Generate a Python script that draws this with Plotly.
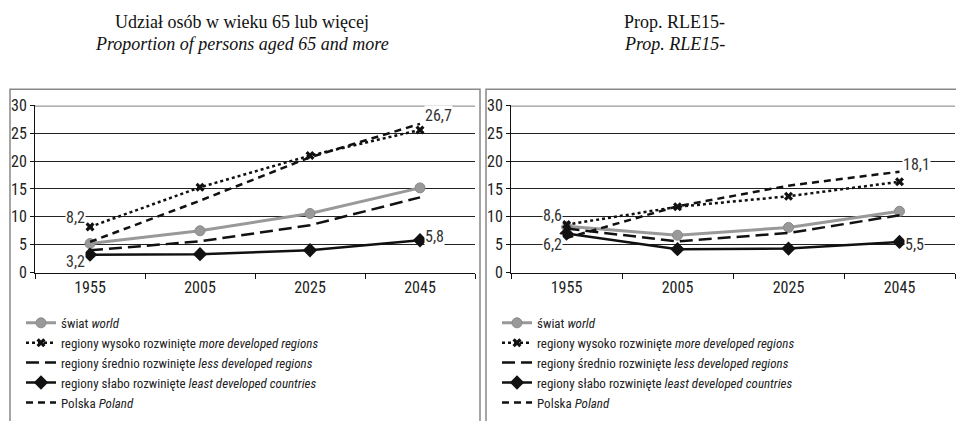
import plotly.graph_objects as go

W, H = 956, 421

years = ["1955", "2005", "2025", "2045"]
yticks = [0, 5, 10, 15, 20, 25, 30]

# Left panel: proportion aged 65+
world_65 = [5.2, 7.5, 10.6, 15.2]
more_65 = [8.2, 15.3, 21.0, 25.6]
less_65 = [4.0, 5.6, 8.5, 13.5]
least_65 = [3.2, 3.3, 4.0, 5.8]
poland_65 = [5.5, 12.9, 20.7, 26.7]

# Right panel: Prop. RLE15-
world_rle = [8.3, 6.7, 8.1, 11.0]
more_rle = [8.6, 11.8, 13.7, 16.3]
less_rle = [7.9, 5.6, 7.1, 10.3]
least_rle = [7.0, 4.2, 4.3, 5.5]
poland_rle = [6.2, 11.9, 15.6, 18.1]

names = [
    "świat <i>world</i>",
    "regiony wysoko rozwinięte <i>more developed regions</i>",
    "regiony średnio rozwinięte <i>less developed regions</i>",
    "regiony słabo rozwinięte <i>least developed countries</i>",
    "Polska <i>Poland</i>",
]

NARROW = "Liberation Sans Narrow, Arial Narrow, Roboto Condensed, sans-serif"
SERIF = "Liberation Serif, Times New Roman, serif"

def px(x):
    return x / W

def py(y):
    return 1 - y / H

styles = [
    dict(mode="lines+markers", line=dict(color="#999999", width=3),
         marker=dict(symbol="circle", size=10, color="#999999", line=dict(color="#8a8a8a", width=1))),
    dict(mode="lines+markers", line=dict(color="#111111", width=2.5, dash="dot"),
         marker=dict(symbol="x", size=8, color="#111111")),
    dict(mode="lines", line=dict(color="#111111", width=2.5, dash="13px,6px")),
    dict(mode="lines+markers", line=dict(color="#111111", width=2.5),
         marker=dict(symbol="diamond", size=11, color="#111111")),
    dict(mode="lines", line=dict(color="#111111", width=2.5, dash="7px,5px")),
]

fig = go.Figure()

panels = [
    ("x", "y", "legend", [world_65, more_65, less_65, least_65, poland_65]),
    ("x2", "y2", "legend2", [world_rle, more_rle, less_rle, least_rle, poland_rle]),
]
for xa, ya, lg, series in panels:
    for i in range(5):
        fig.add_trace(go.Scatter(x=years, y=series[i], name=names[i], xaxis=xa, yaxis=ya,
                                 legend=lg, hoverinfo="skip", **styles[i]))

axis_common_y = dict(range=[0, 30], tickvals=yticks, showgrid=True, gridcolor="#222222",
                     gridwidth=1, showline=True, linecolor="#111111", linewidth=1,
                     ticks="outside", ticklen=4, tickcolor="#111111", zeroline=False,
                     tickfont=dict(family=NARROW, size=16, color="#222222"),
                     domain=[py(276), py(101)], fixedrange=True)
axis_common_x = dict(type="category", categoryorder="array", categoryarray=years,
                     range=[-0.5, 3.5], tickson="boundaries", ticks="outside", ticklen=5,
                     tickcolor="#111111", showline=True, linecolor="#111111", linewidth=1,
                     showgrid=False, tickfont=dict(family=NARROW, size=16, color="#222222"),
                     fixedrange=True)

fig.update_layout(
    width=W, height=H,
    margin=dict(l=0, r=0, t=0, b=0),
    paper_bgcolor="white", plot_bgcolor="white",
    xaxis=dict(domain=[px(35), px(475)], anchor="y", **axis_common_x),
    yaxis=dict(anchor="x", **axis_common_y),
    xaxis2=dict(domain=[px(511), px(955)], anchor="y2", **axis_common_x),
    yaxis2=dict(anchor="x2", **axis_common_y),
    legend=dict(x=px(21), y=py(313), xanchor="left", yanchor="top",
                font=dict(family=NARROW, size=13, color="#222222"),
                bgcolor="rgba(0,0,0,0)", tracegroupgap=0, itemwidth=30),
    legend2=dict(x=px(497), y=py(313), xanchor="left", yanchor="top",
                 font=dict(family=NARROW, size=13, color="#222222"),
                 bgcolor="rgba(0,0,0,0)", tracegroupgap=0, itemwidth=30),
    showlegend=True,
)

shapes = [
    dict(type="rect", xref="paper", yref="paper", x0=px(10), x1=px(480), y0=-0.05, y1=py(84),
         line=dict(color="#888888", width=1.5), layer="below"),
    dict(type="rect", xref="paper", yref="paper", x0=px(486), x1=1.05, y0=-0.05, y1=py(84),
         line=dict(color="#888888", width=1.5), layer="below"),
    dict(type="line", xref="x domain", yref="y", x0=0, x1=1, y0=30, y1=30,
         line=dict(color="#999999", width=2.5)),
    dict(type="line", xref="x2 domain", yref="y2", x0=0, x1=1, y0=30, y1=30,
         line=dict(color="#999999", width=2.5)),
]
fig.update_layout(shapes=shapes)

def fmt(v):
    return f"{v:.1f}".replace(".", ",")

# (axis x, axis y, category index, value, anchor, xshift, yshift)
labels = [
    ("x", "y", 0, more_65[0], "right", -4, 9),
    ("x", "y", 0, least_65[0], "right", -4, -7),
    ("x", "y", 3, poland_65[3], "left", 4, 8),
    ("x", "y", 3, least_65[3], "left", 4, 4),
    ("x2", "y2", 0, more_rle[0], "right", -4, 9),
    ("x2", "y2", 0, poland_rle[0], "right", -4, -6),
    ("x2", "y2", 3, poland_rle[3], "left", 2, 7),
    ("x2", "y2", 3, least_rle[3], "left", 4, -3),
]
ann = []
for xa, ya, xi, yv, anchor, xs, ys in labels:
    ann.append(dict(x=xi, y=yv, xref=xa, yref=ya, text=fmt(yv), showarrow=False,
                    xanchor=anchor, yanchor="middle", xshift=xs, yshift=ys,
                    bgcolor="white", borderpad=0,
                    font=dict(family=NARROW, size=16, color="#333333")))

titles = [
    (242, 14, "Udział osób w wieku 65 lub więcej"),
    (242, 37, "<i>Proportion of persons aged 65 and more</i>"),
    (674, 14, "Prop. RLE15-"),
    (674, 37, "<i>Prop. RLE15-</i>"),
]
for x, y, t in titles:
    ann.append(dict(x=px(x), y=py(y), xref="paper", yref="paper", text=t, showarrow=False,
                    xanchor="center", yanchor="middle",
                    font=dict(family=SERIF, size=18, color="#111111")))
fig.update_layout(annotations=ann)

fig.write_html("out.html", config={"displayModeBar": False},
               post_script="document.body.style.margin='0';document.body.style.overflow='hidden';")
